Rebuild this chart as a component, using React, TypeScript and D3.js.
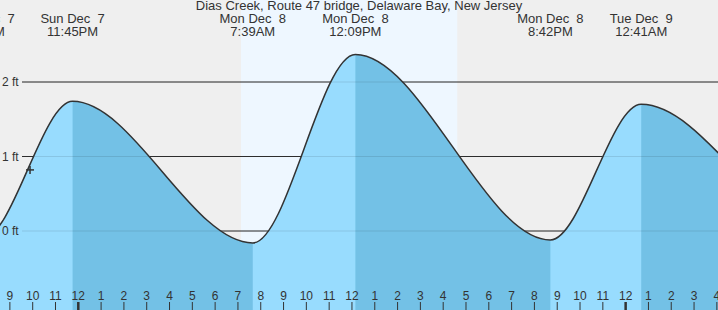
import React from 'react';
import * as d3 from 'd3';

const W = 718;
const H = 310;

const title = 'Dias Creek, Route 47 bridge, Delaware Bay, New Jersey';

// tide extremes (high / low) (first and last lie outside the view)
const extremeTimes = [
  '2025-12-07T15:20',
  '2025-12-07T19:48',
  '2025-12-07T23:45',
  '2025-12-08T07:39',
  '2025-12-08T12:09',
  '2025-12-08T20:42',
  '2025-12-09T00:41',
  '2025-12-09T09:00',
  '2025-12-09T13:10',
];
const extremeHeights = [2.3, -0.1, 1.74, -0.16, 2.37, -0.12, 1.7, -0.1, 2.3];
const extremeDayLabels = [
  'Sun Dec  7',
  'Sun Dec  7',
  'Sun Dec  7',
  'Mon Dec  8',
  'Mon Dec  8',
  'Mon Dec  8',
  'Tue Dec  9',
  'Tue Dec  9',
  'Tue Dec  9',
];
const extremeTimeLabels = [
  '3:20PM',
  '7:48PM',
  '11:45PM',
  '7:39AM',
  '12:09PM',
  '8:42PM',
  '12:41AM',
  '9:00AM',
  '1:10PM',
];

const daylightStarts = ['2025-12-08T07:08'];
const daylightEnds = ['2025-12-08T16:37'];

const yTickValues = [0, 1, 2];
const yTickLabels = ['0 ft', '1 ft', '2 ft'];

const viewStart = '2025-12-07T20:34';
const viewEnd = '2025-12-09T04:03';

const nowTime = '2025-12-07T21:53';
const nowHeight = 0.82;

const FONT = '"Liberation Sans", Arial, sans-serif';
const NIGHT_BG = '#efefef';
const DAY_BG = '#eef7ff';
const RISE = '#98dcfe';
const FALL = '#73c1e6';
const INK = '#333';

export default function App() {
  const x = d3
    .scaleTime()
    .domain([new Date(viewStart), new Date(viewEnd)])
    .range([0, W]);
  const y = d3.scaleLinear().domain([0, 2]).range([231, 82]);

  const pts: [Date, number][] = extremeTimes.map((t, i) => [new Date(t), extremeHeights[i]]);

  const area = d3
    .area<[Date, number]>()
    .x((d) => x(d[0]))
    .y0(H)
    .y1((d) => y(d[1]))
    .curve(d3.curveMonotoneX);
  const line = d3
    .line<[Date, number]>()
    .x((d) => x(d[0]))
    .y((d) => y(d[1]))
    .curve(d3.curveMonotoneX);

  const rising = pts
    .slice(0, -1)
    .map((p, i) => ({ a: p, b: pts[i + 1] }))
    .filter((s) => s.b[1] > s.a[1]);

  const start = new Date(viewStart);
  const end = new Date(viewEnd);
  const hours = d3.timeHour.range(d3.timeHour.ceil(start), end);

  const nx = x(new Date(nowTime));
  const ny = y(nowHeight);

  const labelled = pts
    .map((p, i) => ({ p, i, lx: x(p[0]) }))
    .filter((d) => d.lx > -50 && d.lx < W + 50);

  return (
    <svg
      width={W}
      height={H}
      style={{ position: 'absolute', left: 0, top: 0, display: 'block' }}
      fontFamily={FONT}
    >
      <defs>
        <clipPath id="risingClip">
          {rising.map((s, i) => (
            <rect
              key={i}
              x={x(s.a[0])}
              y={0}
              width={x(s.b[0]) - x(s.a[0])}
              height={H}
            />
          ))}
        </clipPath>
      </defs>
      <rect x={0} y={0} width={W} height={H} fill={NIGHT_BG} />
      {daylightStarts.map((s, i) => (
        <rect
          key={i}
          x={x(new Date(s))}
          y={0}
          width={x(new Date(daylightEnds[i])) - x(new Date(s))}
          height={H}
          fill={DAY_BG}
        />
      ))}
      {yTickValues.map((v) => (
        <line key={v} x1={22} x2={W} y1={y(v)} y2={y(v)} stroke={INK} strokeWidth={1} />
      ))}
      <path d={area(pts) || ''} fill={FALL} />
      <path d={area(pts) || ''} fill={RISE} clipPath="url(#risingClip)" />
      {yTickValues.map((v) => (
        <line
          key={'f' + v}
          x1={22}
          x2={W}
          y1={y(v)}
          y2={y(v)}
          stroke="#000"
          strokeOpacity={0.1}
          strokeWidth={1}
        />
      ))}
      {yTickValues.map((v, i) => (
        <text key={'l' + v} x={2} y={y(v)} dy="0.35em" fontSize={12} fill={INK}>
          {yTickLabels[i]}
        </text>
      ))}
      <path d={line(pts) || ''} fill="none" stroke={INK} strokeWidth={1.5} />
      <g stroke={INK} strokeWidth={1.5}>
        <line x1={nx - 4} x2={nx + 4} y1={ny} y2={ny} />
        <line x1={nx} x2={nx} y1={ny - 4} y2={ny + 4} />
      </g>
      {hours.map((h, i) => {
        const hx = x(h);
        const hr = h.getHours();
        const mid = hr === 0;
        return (
          <g key={i}>
            <line
              x1={hx}
              x2={hx}
              y1={302}
              y2={H}
              stroke={INK}
              strokeWidth={mid ? 2.5 : 1}
            />
            <text x={hx} y={300} textAnchor="middle" fontSize={12} fill={INK}>
              {String(hr % 12 === 0 ? 12 : hr % 12)}
            </text>
          </g>
        );
      })}
      {labelled.map(({ i, lx }) => (
        <g key={'e' + i}>
          <text
            x={lx}
            y={23}
            textAnchor="middle"
            fontSize={13}
            fill={INK}
            style={{ whiteSpace: 'pre' }}
          >
            {extremeDayLabels[i]}
          </text>
          <text x={lx} y={36} textAnchor="middle" fontSize={13} fill={INK}>
            {extremeTimeLabels[i]}
          </text>
        </g>
      ))}
      <text x={W / 2} y={10} textAnchor="middle" fontSize={13} fill={INK}>
        {title}
      </text>
    </svg>
  );
}
